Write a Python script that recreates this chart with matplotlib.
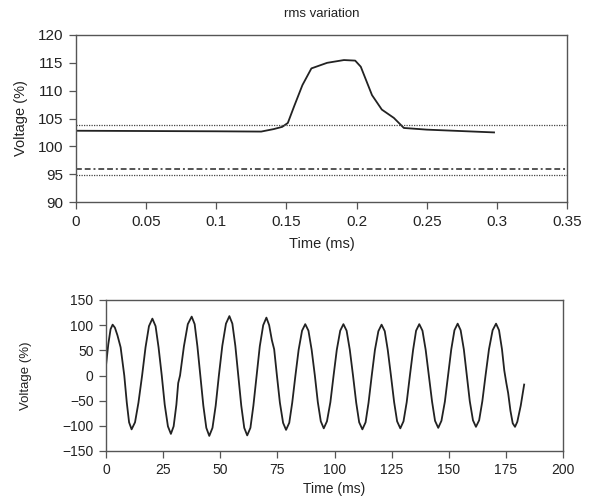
import matplotlib
matplotlib.use("Agg")
import matplotlib.pyplot as plt

plt.rcParams['font.family'] = ['Liberation Sans', 'DejaVu Sans']

# ---- top chart: rms variation ----
rms_time = [0.0, 0.05, 0.10, 0.132, 0.141, 0.147, 0.151, 0.1555, 0.1614, 0.1678,
            0.179, 0.191, 0.199, 0.203, 0.211, 0.218, 0.2266, 0.2337, 0.250, 0.298]
rms_volt = [102.8, 102.75, 102.7, 102.65, 103.1, 103.5, 104.2, 107.2, 111.0, 114.0,
            115.0, 115.5, 115.4, 114.3, 109.2, 106.6, 105.1, 103.3, 103.0, 102.5]
upper_limit = 103.8
lower_dashdot = 95.9
lower_limit = 94.8
top_xticks = [0, 0.05, 0.1, 0.15, 0.2, 0.25, 0.3, 0.35]
top_xlabels = ['0', '0.05', '0.1', '0.15', '0.2', '0.25', '0.3', '0.35']
top_yticks = [90, 95, 100, 105, 110, 115, 120]

# ---- bottom chart: waveform ----
wave_time = [0, 1.0, 2.0, 2.9, 3.9, 5.0, 6.4, 7.2, 8.0,
             9.1, 10.1, 11.2, 12.7, 14.2, 15.8,
             17.3, 18.8, 20.3, 21.7, 23.0, 24.4,
             25.7, 27.1, 28.4, 29.6, 30.8, 31.6, 32.4,
             34.1, 35.8, 37.5, 38.8, 40.0, 41.3,
             42.6, 43.9, 45.2, 46.6, 48.0, 49.4,
             50.9, 52.5, 54.0, 55.3, 56.6, 57.9,
             59.2, 60.5, 61.8, 63.2, 64.5, 65.9,
             67.3, 68.8, 70.2, 71.4, 72.6, 73.6, 74.8,
             76.1, 77.5, 78.8, 80.2, 81.5, 82.9,
             84.3, 85.8, 87.2, 88.6, 90.0, 91.4,
             92.7, 94.0, 95.3, 96.7, 98.2, 99.6,
             101.0, 102.5, 103.9, 105.3, 106.7, 108.1,
             109.5, 110.8, 112.2, 113.6, 114.9, 116.3,
             117.7, 119.2, 120.6, 122.0, 123.3, 124.7,
             126.1, 127.4, 128.8, 130.2, 131.6, 133.0,
             134.4, 135.7, 137.1, 138.5, 139.9, 141.3,
             142.7, 144.0, 145.4, 146.8, 148.3, 149.7,
             151.1, 152.5, 153.9, 155.2, 156.6, 157.9,
             159.2, 160.6, 161.9, 163.3, 164.7, 166.1,
             167.6, 169.2, 170.7, 172.0, 173.3, 174.3, 175.2, 176.0,
             177.0, 178.0, 179.0, 180.0, 181.5, 183.0]
wave_volt = [20, 62, 92, 101, 95, 80, 56, 28, 0,
             -54, -93, -107, -93, -54, 0,
             56, 98, 113, 98, 56, 0,
             -58, -101, -116, -101, -58, -15, 0,
             58, 102, 117, 102, 58, 0,
             -60, -104, -120, -104, -60, 0,
             59, 103, 118, 103, 59, 0,
             -60, -104, -119, -104, -60, 0,
             58, 100, 115, 100, 70, 52, 0,
             -54, -94, -108, -94, -54, 0,
             51, 89, 102, 89, 51, 0,
             -53, -91, -105, -91, -53, 0,
             51, 89, 102, 89, 51, 0,
             -54, -93, -107, -93, -54, 0,
             51, 88, 101, 88, 51, 0,
             -53, -91, -105, -91, -53, 0,
             51, 89, 102, 89, 51, 0,
             -52, -90, -104, -90, -52, 0,
             52, 90, 103, 90, 52, 0,
             -51, -89, -102, -89, -51, 0,
             52, 90, 103, 90, 52, 10, -15, -35,
             -70, -95, -102, -92, -60, -18]
bot_xticks = [0, 25, 50, 75, 100, 125, 150, 175, 200]
bot_yticks = [-150, -100, -50, 0, 50, 100, 150]

W, H = 598, 497
fig = plt.figure(figsize=(W / 100, H / 100), dpi=100)

spine_color = '#555555'
text_color = '#222222'

def style(ax, size):
    for s in ax.spines.values():
        s.set_color(spine_color)
        s.set_linewidth(1.0)
    ax.tick_params(direction='out', length=5, width=0.9, color=spine_color,
                   labelsize=size, labelcolor=text_color, pad=4)

# top axes
ax1 = fig.add_axes([76 / W, 1 - 202 / H, (567 - 76) / W, (202 - 35) / H])
ax1.plot(rms_time, rms_volt, color=text_color, lw=1.3)
ax1.axhline(upper_limit, color='#444444', lw=0.9, ls=(0, (1, 1)))
ax1.axhline(lower_dashdot, color='#555555', lw=1.4, ls=(0, (3, 1.5, 3, 1.5, 1, 1.5)))
ax1.axhline(lower_limit, color='#444444', lw=0.9, ls=(0, (1, 1)))
ax1.set_xlim(0, 0.35)
ax1.set_ylim(90, 120)
ax1.set_xticks(top_xticks)
ax1.set_xticklabels(top_xlabels)
ax1.set_yticks(top_yticks)
style(ax1, 11)
ax1.set_title('rms variation', fontsize=9.5, color=text_color, pad=13)
ax1.set_xlabel('Time (ms)', fontsize=10.5, color=text_color, labelpad=6)
ax1.set_ylabel('Voltage (%)', fontsize=10.5, color=text_color, labelpad=7)

# bottom axes
ax2 = fig.add_axes([106 / W, 1 - 451 / H, (563 - 106) / W, (451 - 300) / H])
ax2.plot(wave_time, wave_volt, color=text_color, lw=1.3)
ax2.set_xlim(0, 200)
ax2.set_ylim(-150, 150)
ax2.set_xticks(bot_xticks)
ax2.set_yticks(bot_yticks)
ax2.set_yticklabels([str(v).replace('-', '\u2212') for v in bot_yticks])
style(ax2, 10)
ax2.set_xlabel('Time (ms)', fontsize=10, color=text_color, labelpad=3)
ax2.set_ylabel('Voltage (%)', fontsize=9.5, color=text_color, labelpad=22)

fig.savefig('out.png', dpi=100)
